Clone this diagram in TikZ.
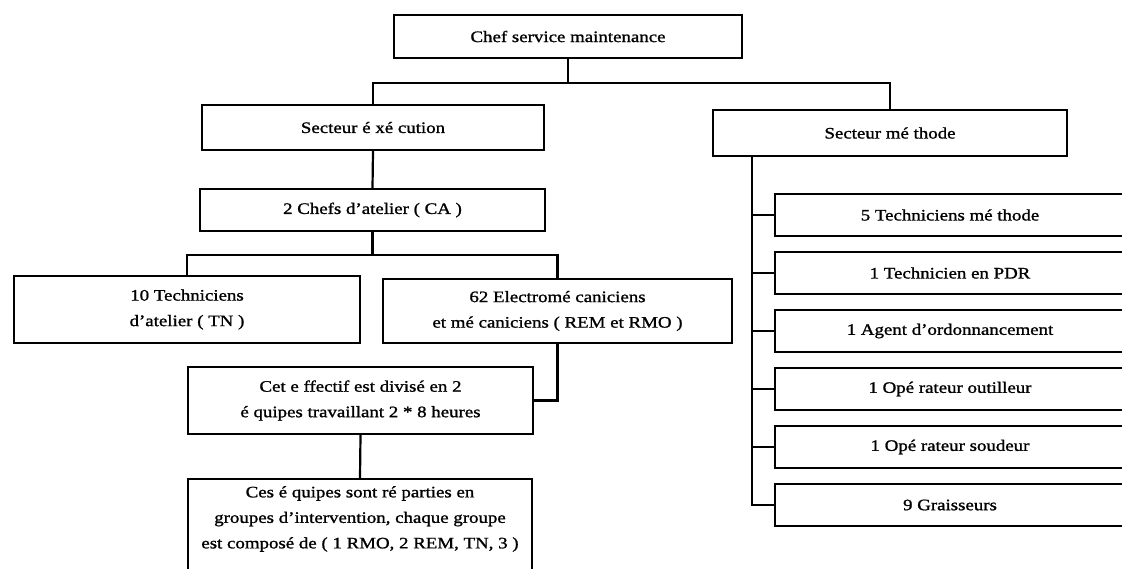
\documentclass[tikz,border=0pt]{standalone}
\usepackage{fontspec}
\setmainfont{Liberation Serif}[FakeStretch=1.18, FakeBold=1.2]
\usetikzlibrary{calc}
\begin{document}
\begin{tikzpicture}[x=1pt,y=-1pt,
  box/.style={draw, line width=2.2pt, inner sep=0pt, align=center,
    font=\fontsize{16}{25.5}\selectfont},
  link/.style={line width=2.2pt},
  rbox/.style={box, minimum width=350, minimum height=42}
]
\useasboundingbox (0,0) rectangle (1122,568);
\clip (0,0) rectangle (1122,568);

% top
\node[box, minimum width=348, minimum height=43] (chef) at (568,36.5) {Chef service maintenance};
\node[box, minimum width=342, minimum height=45] (sexe) at (373,127.5) {Secteur é xé cution};
\node[box, minimum width=354, minimum height=46] (smeth) at (890,133) {Secteur mé thode};

% left branch
\node[box, minimum width=345, minimum height=42] (chefs) at (372.5,210) {2 Chefs d'atelier ( CA )};
\node[box, minimum width=346, minimum height=67] (tech10) at (187,309.5) {10 Techniciens\\d'atelier ( TN )};
\node[box, minimum width=349, minimum height=64] (elec) at (557.5,311) {62 Electromé caniciens\\et mé caniciens ( REM et RMO )};
\node[box, minimum width=345, minimum height=67] (cet) at (360.5,400.5) {Cet e ffectif est divisé en 2\\é quipes travaillant 2 * 8 heures};
\node[box, minimum width=344, minimum height=115, anchor=north] (ces) at (360,478) {};
\node[inner sep=0pt, align=center, font=\fontsize{16}{25.5}\selectfont] (cestext) at (360,519)
  {Ces é quipes sont ré parties en\\groupes d'intervention, chaque groupe\\est composé de ( 1 RMO, 2 REM, TN, 3 )};

% right branch
\node[rbox] (r1) at (950,215) {5 Techniciens mé thode};
\node[rbox] (r2) at (950,273) {1 Technicien en PDR};
\node[rbox] (r3) at (950,331) {1 Agent d'ordonnancement};
\node[rbox] (r4) at (950,389) {1 Opé rateur outilleur};
\node[rbox] (r5) at (950,447) {1 Opé rateur soudeur};
\node[rbox] (r6) at (950,505) {9 Graisseurs};

% connectors
\coordinate (j1) at (568,83);
\coordinate (j2) at (372.5,255);
\draw[link] (chef.south) -- (j1);
\draw[link] (sexe.north) |- (j1) -| (smeth.north);
\draw[link] (sexe.south) -- (chefs.north);
\draw[link] (chefs.south) -- (j2);
\draw[link] (tech10.north) |- (j2) -| (elec.north);
\draw[link] (elec.south) |- (cet.east);
\draw[link] (cet.south) -- (ces.north);

\coordinate (m0) at ($(smeth.south west)+(40,0)$);
\draw[link] (m0) |- (r6.west);
\foreach \r in {r1,r2,r3,r4,r5}{
  \draw[link] (m0 |- \r.west) -- (\r.west);
}
\end{tikzpicture}
\end{document}
